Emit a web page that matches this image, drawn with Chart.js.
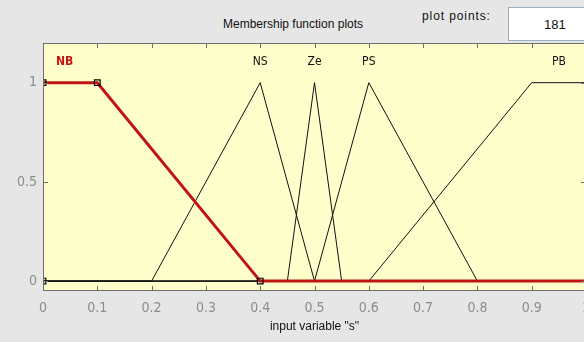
<!DOCTYPE html>
<html>
<head>
<meta charset="utf-8">
<script src="https://cdn.jsdelivr.net/npm/chart.js@4/dist/chart.umd.min.js"></script>
<style>
  html, body { margin: 0; padding: 0; }
  body { width: 584px; height: 342px; overflow: hidden; background: #e6e6e6; position: relative;
         font-family: "Liberation Sans", Arial, sans-serif; }
  #mf-canvas { position: absolute; left: 0; top: 0; }
  .hdr { position: absolute; font-size: 12px; color: #111; white-space: nowrap; }
  #mf-title { left: 223px; top: 17px; }
  #pts-label { left: 422px; top: 9px; letter-spacing: 0.9px; }
  #pts-box { position: absolute; left: 508px; top: 7px; width: 100px; height: 34px; background: #fff;
             border: 1px solid #9fb0c6; box-sizing: border-box; }
  #pts-value { position: absolute; left: 35px; top: 9px; font-size: 13px; color: #111; }
</style>
</head>
<body>
<div class="hdr" id="mf-title">Membership function plots</div>
<div class="hdr" id="pts-label">plot points:</div>
<div id="pts-box"><span id="pts-value">181</span></div>
<canvas id="mf-canvas" width="600" height="342"></canvas>
<script>
// membership function breakpoints on input variable "s"
const nbX = [0, 0.1, 0.4, 1];
const nbY = [1, 1, 0, 0];
const nsX = [0, 0.2, 0.4, 0.5, 1];
const nsY = [0, 0, 1, 0, 0];
const zeX = [0, 0.45, 0.5, 0.55, 1];
const zeY = [0, 0, 1, 0, 0];
const psX = [0, 0.5, 0.6, 0.8, 1];
const psY = [0, 0, 1, 0, 0];
const pbX = [0, 0.6, 0.9, 1];
const pbY = [0, 0, 1, 1];

// handles of the selected function (NB)
const nbHandleX = [0, 0, 0.1, 0.4];
const nbHandleY = [0, 1, 1, 0];

const mfNames = ['NB', 'NS', 'Ze', 'PS', 'PB'];
const mfLabelX = [0.04, 0.4, 0.5, 0.6, 0.95];
const mfLabelY = 1.105;

const xTicks = [0, 0.1, 0.2, 0.3, 0.4, 0.5, 0.6, 0.7, 0.8, 0.9, 1];
const yTicks = [0, 0.5, 1];

const TICK_FONT = '"Liberation Sans Narrow", "DejaVu Sans Condensed", "Liberation Sans", sans-serif';

const pts = (xs, ys) => xs.map((x, i) => ({ x, y: ys[i] }));

function mfLine(xs, ys, color, width, order) {
  return {
    data: pts(xs, ys), showLine: true, borderColor: color, borderWidth: width,
    pointRadius: 0, tension: 0, clip: 0, order,
  };
}

// inward tick marks on all four sides, plus the box and the MF names
const axesBox = {
  id: 'axesBox',
  afterDatasetsDraw(chart) {
    const { ctx, chartArea: a, scales: { x, y } } = chart;
    ctx.save();
    ctx.strokeStyle = '#6e6e6e';
    ctx.lineWidth = 1;
    ctx.strokeRect(a.left + 0.5, a.top + 0.5, a.right - a.left - 1, a.bottom - a.top - 1);
    ctx.beginPath();
    xTicks.forEach(v => {
      const px = Math.round(x.getPixelForValue(v)) + 0.5;
      ctx.moveTo(px, a.bottom); ctx.lineTo(px, a.bottom - 5);
      ctx.moveTo(px, a.top); ctx.lineTo(px, a.top + 5);
    });
    yTicks.forEach(v => {
      const py = Math.round(y.getPixelForValue(v)) + 0.5;
      ctx.moveTo(a.left, py); ctx.lineTo(a.left + 5, py);
      ctx.moveTo(a.right, py); ctx.lineTo(a.right - 5, py);
    });
    ctx.stroke();

    ctx.textAlign = 'center';
    ctx.textBaseline = 'middle';
    mfNames.forEach((name, i) => {
      const selected = i === 0;
      ctx.font = (selected ? 'bold 12px ' : '12px ') + TICK_FONT;
      ctx.fillStyle = selected ? '#c81414' : '#111';
      ctx.fillText(name, x.getPixelForValue(mfLabelX[i]), y.getPixelForValue(mfLabelY));
    });
    ctx.restore();
  },
};

const plotBg = {
  id: 'plotBg',
  beforeDraw(chart) {
    const { ctx, chartArea: a } = chart;
    ctx.save();
    ctx.fillStyle = '#fefecb';
    ctx.fillRect(a.left, a.top, a.right - a.left, a.bottom - a.top);
    ctx.restore();
  },
};

new Chart(document.getElementById('mf-canvas'), {
  type: 'scatter',
  data: {
    datasets: [
      {
        data: pts(nbHandleX, nbHandleY), pointStyle: 'rect', pointRadius: 4,
        pointBorderColor: '#000', pointBackgroundColor: 'rgba(0,0,0,0)', pointBorderWidth: 1.2,
        showLine: false, clip: 0, order: 0,
      },
      mfLine(nbX, nbY, '#c01414', 3, 1),
      mfLine(nsX, nsY, '#111', 1, 2),
      mfLine(zeX, zeY, '#111', 1, 3),
      mfLine(psX, psY, '#111', 1, 4),
      mfLine(pbX, pbY, '#111', 1, 5),
    ],
  },
  options: {
    responsive: false,
    animation: false,
    devicePixelRatio: 1,
    layout: { padding: { top: 43, right: 14, left: 0, bottom: 0 } },
    plugins: { legend: { display: false }, tooltip: { enabled: false } },
    scales: {
      x: {
        type: 'linear', min: 0, max: 1,
        afterBuildTicks: s => { s.ticks = xTicks.map(value => ({ value })); },
        afterFit: s => { s.height = 51; },
        grid: { display: false, drawTicks: false },
        border: { display: false },
        ticks: {
          color: '#8c8c8c', padding: 9, maxRotation: 0, autoSkip: false,
          font: { family: TICK_FONT, size: 14 },
          callback: v => String(v),
        },
        title: {
          display: true, text: 'input variable "s"', color: '#111',
          font: { family: '"Liberation Sans", Arial, sans-serif', size: 12 },
          padding: { top: 0, bottom: 8 },
        },
      },
      y: {
        type: 'linear', min: -0.05, max: 1.2,
        afterBuildTicks: s => { s.ticks = yTicks.map(value => ({ value })); },
        afterFit: s => { s.width = 43; },
        grid: { display: false, drawTicks: false },
        border: { display: false },
        ticks: {
          color: '#8c8c8c', padding: 6,
          font: { family: TICK_FONT, size: 14 },
          callback: v => String(v),
        },
      },
    },
  },
  plugins: [plotBg, axesBox],
});
</script>
</body>
</html>
